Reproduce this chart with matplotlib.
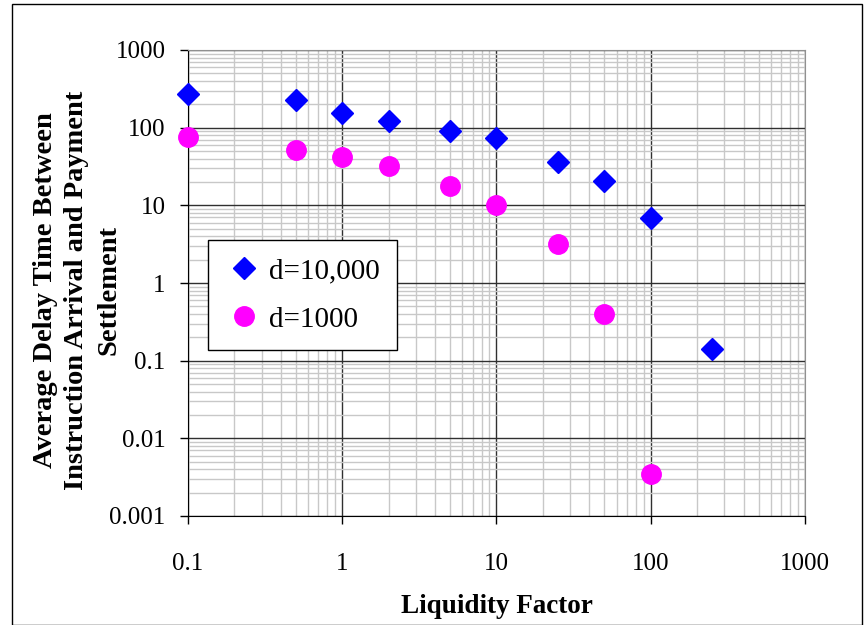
import matplotlib
matplotlib.use('Agg')
import matplotlib.pyplot as plt
from matplotlib.ticker import LogLocator, FuncFormatter, NullFormatter
from matplotlib.patches import Rectangle

x_big = [0.1, 0.5, 1, 2, 5, 10, 25, 50, 100, 250]
y_big = [272, 227, 155, 122, 91, 74, 36, 20.6, 6.9, 0.142]

x_small = [0.1, 0.5, 1, 2, 5, 10, 25, 50, 100]
y_small = [76, 52, 42, 32, 17.8, 10.1, 3.2, 0.4, 0.0035]

labels = ['d=10,000', 'd=1000']

plt.rcParams['font.family'] = ['Liberation Serif', 'DejaVu Serif']

fig = plt.figure(figsize=(8.66, 6.25), dpi=100)
ax = fig.add_axes([0.217, 0.1744, 0.7126, 0.7456])

ax.set_xscale('log')
ax.set_yscale('log')
ax.set_xlim(0.1, 1000)
ax.set_ylim(0.001, 1000)

ax.xaxis.set_major_locator(LogLocator(base=10, numticks=10))
ax.yaxis.set_major_locator(LogLocator(base=10, numticks=10))
ax.xaxis.set_minor_locator(LogLocator(base=10, subs=range(2, 10), numticks=20))
ax.yaxis.set_minor_locator(LogLocator(base=10, subs=range(2, 10), numticks=20))
fmt = FuncFormatter(lambda v, p: '{:g}'.format(v))
ax.xaxis.set_major_formatter(fmt)
ax.yaxis.set_major_formatter(fmt)
ax.xaxis.set_minor_formatter(NullFormatter())
ax.yaxis.set_minor_formatter(NullFormatter())

ax.grid(which='minor', color='#c8c8c8', lw=1)
ax.grid(which='major', color='#303030', lw=1)
ax.set_axisbelow(True)

ax.tick_params(which='major', direction='out', length=6, width=1, labelsize=18)
ax.tick_params(axis='x', pad=21)
ax.tick_params(axis='y', pad=10)
ax.tick_params(which='minor', length=0)

for s in ['top', 'right']:
    ax.spines[s].set_color('#909090')
for s in ['left', 'bottom']:
    ax.spines[s].set_color('black')

ax.plot(x_big, y_big, 'D', color='#0000ff', markersize=11, linestyle='none',
        label=labels[0], clip_on=False, zorder=3)
ax.plot(x_small, y_small, 'o', color='#ff00ff', markersize=14, linestyle='none',
        label=labels[1], clip_on=False, zorder=3)

leg = ax.legend(loc='lower left', bbox_to_anchor=(0.032, 0.356), fontsize=21,
                frameon=True, fancybox=False, edgecolor='black', framealpha=1,
                handletextpad=0.2, labelspacing=0.75, borderpad=0.6, handlelength=1.3,
                borderaxespad=0)
leg.get_frame().set_linewidth(1)

ax.set_xlabel('Liquidity Factor', fontsize=19.5, fontweight='bold', labelpad=13)
ax.set_ylabel('Average Delay Time Between\nInstruction Arrival and Payment\nSettlement',
              fontsize=20.5, fontweight='bold', linespacing=1.36)
ax.yaxis.set_label_coords(-0.108, 0.485)

fig.patches.append(Rectangle((0.014, 0.0), 0.981, 0.993, transform=fig.transFigure,
                             fill=False, edgecolor='black', lw=1))

plt.savefig('out.png', dpi=100)
